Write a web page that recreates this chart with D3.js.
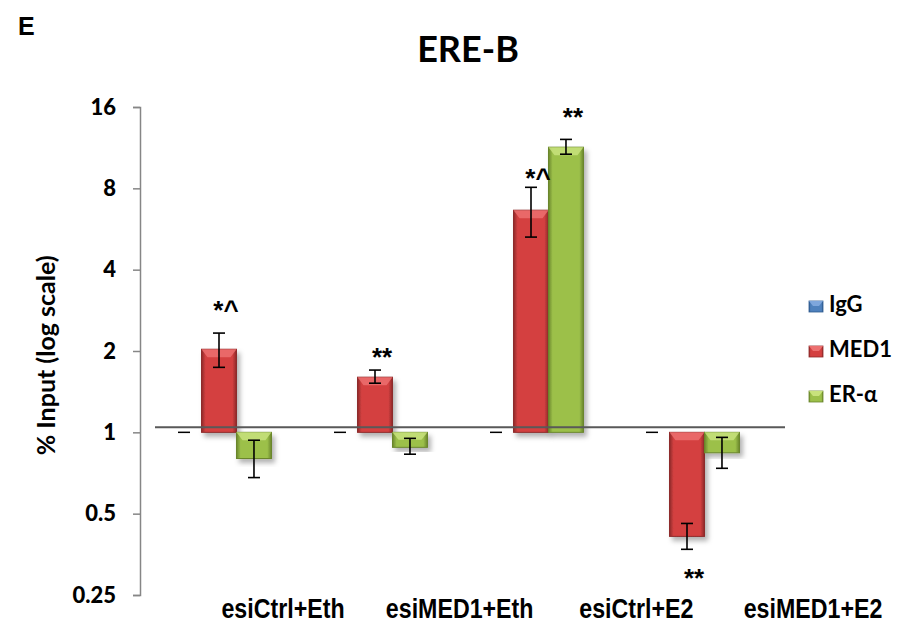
<!DOCTYPE html>
<html>
<head>
<meta charset="utf-8">
<script src="https://cdn.jsdelivr.net/npm/d3@7"></script>
<style>
  body { margin: 0; background: #fff; }
  svg { display: block; }
</style>
</head>
<body>
<div id="chart"></div>
<script>
// data
var categories = ["esiCtrl+Eth", "esiMED1+Eth", "esiCtrl+E2", "esiMED1+E2"];
var seriesNames = ["IgG", "MED1", "ER-α"];
var iggValues = [1, 1, 1, 1];
var med1Values = [2.03, 1.60, 6.64, 0.412];
var med1Low = [1.74, 1.52, 5.28, 0.369];
var med1High = [2.33, 1.70, 8.07, 0.46];
var eraValues = [0.80, 0.88, 11.36, 0.84];
var eraLow = [0.68, 0.83, 10.7, 0.736];
var eraHigh = [0.935, 0.95, 12.14, 0.958];
var yTicks = [0.25, 0.5, 1, 2, 4, 8, 16];
// significance marks: category index, series, text, value where the text sits
var sigCat = [0, 1, 2, 2, 3];
var sigSeries = ["MED1", "MED1", "MED1", "ER-α", "MED1"];
var sigText = ["*^", "**", "*^", "**", "**"];
var sigAt = [2.62, 1.76, 8.1, 13.6, 0.268];

var W = 898, H = 629;
var colors = {
  "IgG":  {main: "#4f81bd", light: "#7ea6dc", dark: "#2f5b8f"},
  "MED1": {main: "#d44040", light: "#ec7070", dark: "#8e2a2a"},
  "ER-α": {main: "#9cc04a", light: "#c8e27c", dark: "#6a862c"}
};

var svg = d3.select("#chart").append("svg")
    .attr("width", W)
    .attr("height", H);

var defs = svg.append("defs");
seriesNames.forEach(function(s, i){
    var g = defs.append("linearGradient")
        .attr("id", "grad" + i)
        .attr("x1", "0").attr("x2", "1").attr("y1", "0").attr("y2", "0");
    g.append("stop").attr("offset", "0").attr("stop-color", colors[s].dark);
    g.append("stop").attr("offset", "0.12").attr("stop-color", colors[s].main);
    g.append("stop").attr("offset", "0.88").attr("stop-color", colors[s].main);
    g.append("stop").attr("offset", "1").attr("stop-color", colors[s].dark);
});
var shadow = defs.append("filter").attr("id", "shadow")
    .attr("x", "-20%").attr("y", "-20%").attr("width", "150%").attr("height", "150%");
shadow.append("feDropShadow")
    .attr("dx", 3).attr("dy", 4).attr("stdDeviation", 2.5)
    .attr("flood-color", "#000").attr("flood-opacity", 0.3);

var y = d3.scaleLog().base(2)
    .domain([0.25, 16])
    .range([595, 107]);

var x = d3.scaleBand()
    .domain(categories)
    .range([141, 765])
    .padding(0);

var x1 = d3.scaleBand()
    .domain(seriesNames)
    .range([0, x.bandwidth()])
    .paddingInner(0)
    .paddingOuter(0.73);

// title and panel letter
svg.append("text")
    .attr("x", 18).attr("y", 35)
    .style("font-family", "'Liberation Sans', Arial, sans-serif")
    .style("font-weight", "bold")
    .style("font-size", "25px")
    .text("E");

svg.append("text")
    .attr("x", 468).attr("y", 62)
    .attr("text-anchor", "middle")
    .style("font-family", "Lato, 'Open Sans', sans-serif")
    .style("font-weight", "bold")
    .style("font-size", "36px")
    .text("ERE-B");

// y axis
var yAxis = d3.axisLeft(y)
    .tickValues(yTicks)
    .tickFormat(function(d){ return String(d); })
    .tickSize(7)
    .tickSizeOuter(7)
    .tickPadding(17);

var gy = svg.append("g")
    .attr("transform", "translate(140,0)")
    .call(yAxis);
gy.select(".domain").attr("stroke", "#868686").attr("stroke-width", 1.5);
gy.selectAll(".tick line").attr("stroke", "#868686").attr("stroke-width", 1.5);
gy.selectAll(".tick text")
    .style("font-family", "Lato, 'Open Sans', sans-serif")
    .style("font-weight", "900")
    .style("font-size", "22px")
    .attr("fill", "#000");

svg.append("text")
    .attr("transform", "translate(55," + (y(1) - 77) + ") rotate(-90)")
    .attr("text-anchor", "middle")
    .style("font-family", "Lato, 'Open Sans', sans-serif")
    .style("font-weight", "bold")
    .style("font-size", "25px")
    .text("% Input (log scale)");

// category labels (they sit to the right of the groups in the original)
var xl = d3.scalePoint()
    .domain(categories)
    .range([283, 813]);
svg.append("g").selectAll("text")
    .data(categories)
    .enter().append("text")
    .attr("transform", function(d){ return "translate(" + xl(d) + ",618) scale(0.86,1)"; })
    .attr("text-anchor", "middle")
    .style("font-family", "'Liberation Sans', Arial, sans-serif")
    .style("font-weight", "bold")
    .style("font-size", "27px")
    .text(function(d){ return d; });

// bar data
var bars = [];
categories.forEach(function(c, i){
    bars.push({cat: c, s: "MED1", si: 1, v: med1Values[i], lo: med1Low[i], hi: med1High[i]});
    bars.push({cat: c, s: "ER-α", si: 2, v: eraValues[i], lo: eraLow[i], hi: eraHigh[i]});
});

var gBars = svg.append("g");
var bar = gBars.selectAll("g.bar")
    .data(bars)
    .enter().append("g")
    .attr("class", "bar")
    .attr("filter", "url(#shadow)");

bar.append("rect")
    .attr("x", function(d){ return x(d.cat) + x1(d.s); })
    .attr("y", function(d){ return Math.min(y(1), y(d.v)); })
    .attr("width", x1.bandwidth())
    .attr("height", function(d){ return Math.abs(y(d.v) - y(1)); })
    .attr("fill", function(d){ return "url(#grad" + d.si + ")"; })
    .attr("stroke", function(d){ return colors[d.s].dark; })
    .attr("stroke-width", 1);

// bevel on the top face
bar.append("path")
    .attr("d", function(d){
        var x0 = x(d.cat) + x1(d.s), w = x1.bandwidth();
        var top = Math.min(y(1), y(d.v));
        var h = Math.min(8, Math.abs(y(d.v) - y(1)) / 2);
        return "M" + x0 + "," + top + "L" + (x0 + w) + "," + top +
            "L" + (x0 + w - 6) + "," + (top + h) + "L" + (x0 + 6) + "," + (top + h) + "Z";
    })
    .attr("fill", function(d){ return colors[d.s].light; })
    .attr("opacity", 0.85);

// IgG markers (value 1, drawn as a short dash)
svg.append("g").selectAll("line")
    .data(categories)
    .enter().append("line")
    .attr("x1", function(d){ return x(d) + x1("IgG") + x1.bandwidth() / 2 - 6; })
    .attr("x2", function(d){ return x(d) + x1("IgG") + x1.bandwidth() / 2 + 6; })
    .attr("y1", function(d, i){ return y(iggValues[i]); })
    .attr("y2", function(d, i){ return y(iggValues[i]); })
    .attr("stroke", "#000")
    .attr("stroke-width", 1.5);

// error bars
var gErr = svg.append("g");
var eb = gErr.selectAll("g")
    .data(bars)
    .enter().append("g")
    .attr("stroke", "#000")
    .attr("stroke-width", 1.6);
function cx(d){ return x(d.cat) + x1(d.s) + x1.bandwidth() / 2; }
eb.append("line")
    .attr("x1", cx).attr("x2", cx)
    .attr("y1", function(d){ return y(d.lo); })
    .attr("y2", function(d){ return y(d.hi); });
eb.append("line")
    .attr("x1", function(d){ return cx(d) - 6; })
    .attr("x2", function(d){ return cx(d) + 6; })
    .attr("y1", function(d){ return y(d.lo); })
    .attr("y2", function(d){ return y(d.lo); });
eb.append("line")
    .attr("x1", function(d){ return cx(d) - 6; })
    .attr("x2", function(d){ return cx(d) + 6; })
    .attr("y1", function(d){ return y(d.hi); })
    .attr("y2", function(d){ return y(d.hi); });

// reference line near 1
svg.append("line")
    .attr("x1", x.range()[0] + 14)
    .attr("x2", x.range()[1] + 20)
    .attr("y1", y(1) - 5)
    .attr("y2", y(1) - 5)
    .attr("stroke", "#595959")
    .attr("stroke-width", 2);

// significance marks
svg.append("g").selectAll("text")
    .data(sigText)
    .enter().append("text")
    .attr("x", function(d, i){ return x(categories[sigCat[i]]) + x1(sigSeries[i]) + x1.bandwidth() / 2 + 7; })
    .attr("y", function(d, i){ return y(sigAt[i]); })
    .attr("text-anchor", "middle")
    .style("font-family", "'Liberation Sans', Arial, sans-serif")
    .style("font-weight", "bold")
    .style("font-size", "26px")
    .text(function(d){ return d; });

// legend
var legend = svg.append("g").selectAll("g")
    .data(seriesNames)
    .enter().append("g")
    .attr("transform", function(d, i){ return "translate(809," + (312 + i * 45) + ")"; });
legend.append("rect")
    .attr("x", 0).attr("y", -11)
    .attr("width", 14).attr("height", 11)
    .attr("fill", function(d, i){ return "url(#grad" + i + ")"; })
    .attr("stroke", function(d){ return colors[d].dark; })
    .attr("stroke-width", 0.8);
legend.append("path")
    .attr("d", "M0,-11L14,-11L10,-6L4,-6Z")
    .attr("fill", function(d){ return colors[d].light; });
legend.append("text")
    .attr("x", 20).attr("y", 0)
    .style("font-family", "Lato, 'Open Sans', sans-serif")
    .style("font-weight", "bold")
    .style("font-size", "22px")
    .text(function(d){ return d; });
</script>
</body>
</html>
